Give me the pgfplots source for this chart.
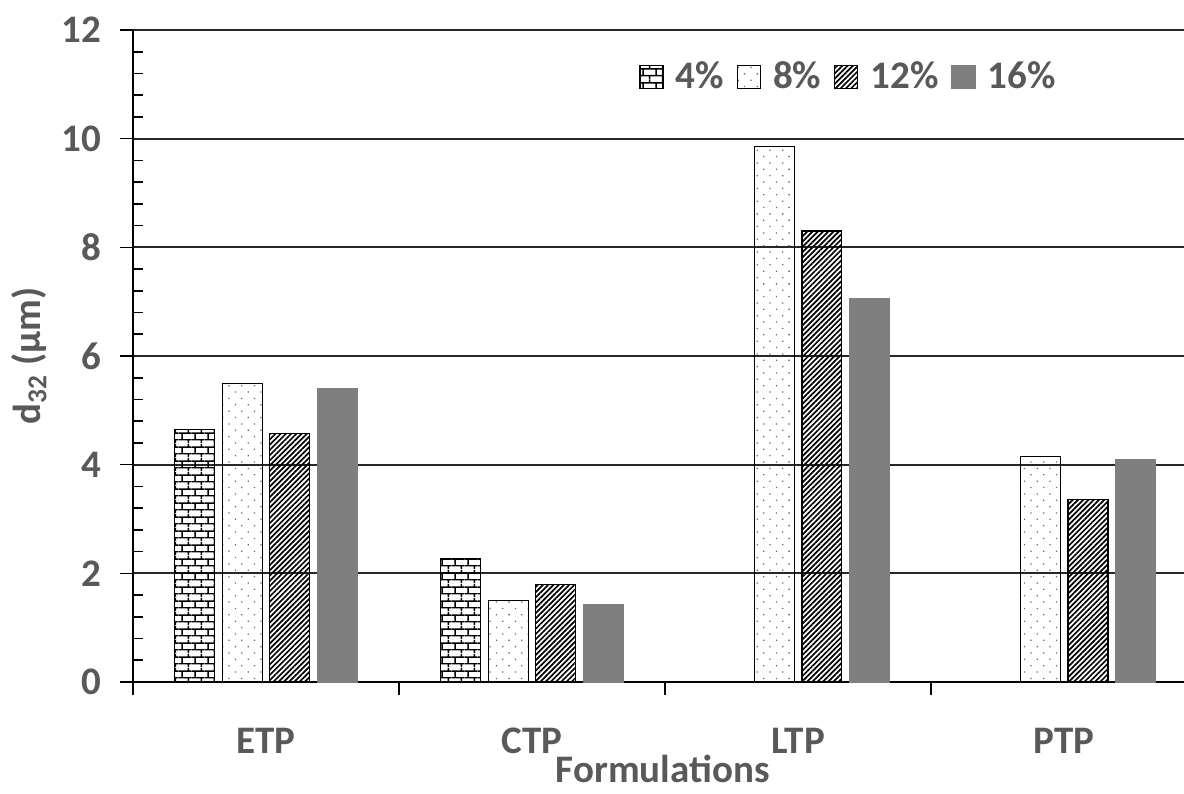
\documentclass[border=0pt]{standalone}
\usepackage{fontspec}
\setmainfont{Carlito}
\usepackage{pgfplots}
\pgfplotsset{compat=1.18}
\usetikzlibrary{patterns,patterns.meta}

\definecolor{textgray}{HTML}{595959}
\definecolor{bargray}{HTML}{7F7F7F}

% small brick pattern, lines kept away from the tile edges
\pgfdeclarepatternformonly{smallbricks}{\pgfpointorigin}{\pgfpoint{6.4pt}{7pt}}{\pgfpoint{6.4pt}{7pt}}{%
  \pgfsetlinewidth{0.75pt}%
  \pgfpathmoveto{\pgfpoint{0pt}{1.75pt}}\pgfpathlineto{\pgfpoint{6.4pt}{1.75pt}}%
  \pgfpathmoveto{\pgfpoint{0pt}{5.25pt}}\pgfpathlineto{\pgfpoint{6.4pt}{5.25pt}}%
  \pgfpathmoveto{\pgfpoint{1.6pt}{1.75pt}}\pgfpathlineto{\pgfpoint{1.6pt}{5.25pt}}%
  \pgfpathmoveto{\pgfpoint{4.8pt}{5.25pt}}\pgfpathlineto{\pgfpoint{4.8pt}{7pt}}%
  \pgfpathmoveto{\pgfpoint{4.8pt}{0pt}}\pgfpathlineto{\pgfpoint{4.8pt}{1.75pt}}%
  \pgfusepath{stroke}}

\begin{document}
\begin{tikzpicture}[font={\fontsize{19.5}{23}\selectfont\bfseries}]
\begin{axis}[
    scale only axis, width=525.5pt, height=326pt,
    ybar, bar width=0.15,
    xmin=-0.5, xmax=3.45, ymin=0, ymax=12,
    axis x line*=bottom, axis y line*=left,
    axis line style={-, line width=0.8pt, black},
    ytick={0,2,...,12}, minor y tick num=4,
    ymajorgrids, major grid style={line width=0.9pt, black!85},
    tick align=outside, major tick length=6.5pt, minor tick length=5pt,
    tick style={black, line width=0.8pt},
    minor y tick style={xshift=5pt},
    xtick={-0.5,0.5,1.5,2.5},
    xticklabels={ETP,CTP,LTP,PTP},
    xticklabel style={xshift=66.5pt, yshift=-13pt},
    yticklabel style={xshift=-6pt},
    /pgf/number format/assume math mode=true,
    tick label style={text=textgray},
    label style={text=textgray},
    xlabel={Formulations},
    xlabel style={at={(axis description cs:0.504,-0.133)}, anchor=center, inner sep=0pt},
    ylabel={d\textsubscript{32} (µm)},
    ylabel style={at={(axis description cs:-0.099,0.5)}, anchor=center},
    legend style={draw=none, fill=none, at={(0.4815,0.928)}, anchor=west,
        legend columns=-1, inner sep=0pt, text=textgray,
        /tikz/every odd column/.append style={column sep=4pt},
        /tikz/every even column/.append style={column sep=4.5pt}},
    legend image code/.code={\draw[#1] (0pt,-5.75pt) rectangle (11.5pt,5.75pt);},
]
\addplot[bar shift=-0.268, draw=black, line width=0.6pt, pattern=smallbricks, pattern color=black]
    coordinates {(0,4.65) (1,2.27)};
\addplot[bar shift=-0.089, draw=black, line width=0.6pt, pattern={Dots[distance=4.5pt, angle=45, radius=0.45pt]}, pattern color=black!60]
    coordinates {(0,5.50) (1,1.50) (2,9.85) (3,4.15)};
\addplot[bar shift=0.089, draw=black, line width=0.6pt, pattern={Lines[angle=45, distance=1.85pt, line width=0.85pt]}, pattern color=black]
    coordinates {(0,4.58) (1,1.80) (2,8.30) (3,3.36)};
\addplot[bar shift=0.268, draw=bargray, fill=bargray, line width=0.6pt]
    coordinates {(0,5.40) (1,1.43) (2,7.06) (3,4.10)};
\legend{4\%,8\%,12\%,16\%}
\end{axis}
\pgfresetboundingbox
\path ([shift={(-66.5pt,-55.5pt)}]current axis.south west) rectangle ([shift={(0pt,15pt)}]current axis.north east);
\end{tikzpicture}
\end{document}
